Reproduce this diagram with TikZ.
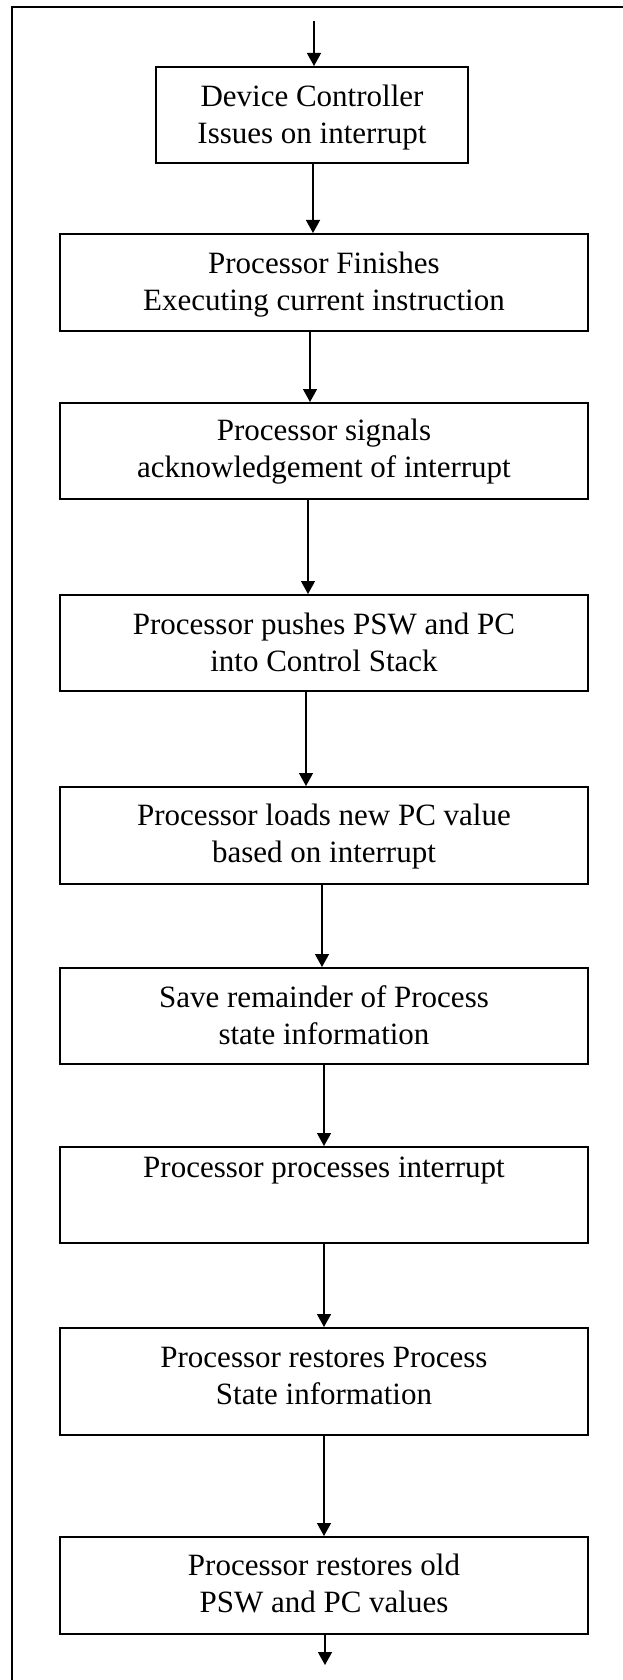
\documentclass[tikz,border=0pt]{standalone}
\usepackage{fontspec}
\setmainfont{Liberation Serif}
\usetikzlibrary{arrows.meta}
\tikzset{
  box/.style={draw=black, line width=1.8pt, inner sep=0pt, align=flush center,
    font=\fontsize{31pt}{36.7pt}\selectfont},
  wide/.style={box, text width=528pt},
  tb/.style 2 args={text height=#1, text depth=#2},
  arr/.style={line width=1.4pt, -{Triangle[length=13pt, width=14pt]}},
  frame/.style={line width=2pt}
}
\begin{document}
\begin{tikzpicture}[x=1pt, y=-1pt]
\useasboundingbox (0,0) rectangle (623,1680);
\clip (0,0) rectangle (623,1680);
\fill[white] (0,0) rectangle (623,1680);
\draw[frame] (12,7) rectangle (700,1750);

\node[box, text width=312pt, tb={40pt}{56pt}, anchor=north] (b1) at (312,66) {Device Controller\\Issues on interrupt};
\node[wide, tb={40pt}{57pt}, anchor=north] (b2) at (324,233) {Processor Finishes\\Executing current instruction};
\node[wide, tb={38pt}{58pt}, anchor=north] (b3) at (324,402) {Processor signals\\acknowledgement of interrupt};
\node[wide, tb={40pt}{56pt}, anchor=north] (b4) at (324,594) {Processor pushes PSW and PC\\into Control Stack};
\node[wide, tb={39pt}{58pt}, anchor=north] (b5) at (324,786) {Processor loads new PC value\\based on interrupt};
\node[wide, tb={40pt}{56pt}, anchor=north] (b6) at (324,967) {Save remainder of Process\\state information};
\node[wide, tb={31pt}{65pt}, anchor=north] (b7) at (324,1146) {Processor processes interrupt};
\node[wide, tb={40pt}{67pt}, anchor=north] (b8) at (324,1327) {Processor restores Process\\State information};
\node[wide, tb={39pt}{58pt}, anchor=north] (b9) at (324,1536) {Processor restores old\\PSW and PC values};

\coordinate (start) at (314,21);
\coordinate (stop) at (325,1665);

\draw[arr] (start) -- ([xshift=2pt]b1.north);
\draw[arr] ([xshift=1pt]b1.south) -- ([xshift=-11pt]b2.north);
\draw[arr] ([xshift=-14pt]b2.south) -- ([xshift=-14pt]b3.north);
\draw[arr] ([xshift=-16pt]b3.south) -- ([xshift=-16pt]b4.north);
\draw[arr] ([xshift=-18pt]b4.south) -- ([xshift=-18pt]b5.north);
\draw[arr] ([xshift=-2pt]b5.south) -- ([xshift=-2pt]b6.north);
\draw[arr] (b6.south) -- (b7.north);
\draw[arr] (b7.south) -- (b8.north);
\draw[arr] (b8.south) -- (b9.north);
\draw[arr] ([xshift=1pt]b9.south) -- (stop);
\end{tikzpicture}
\end{document}
